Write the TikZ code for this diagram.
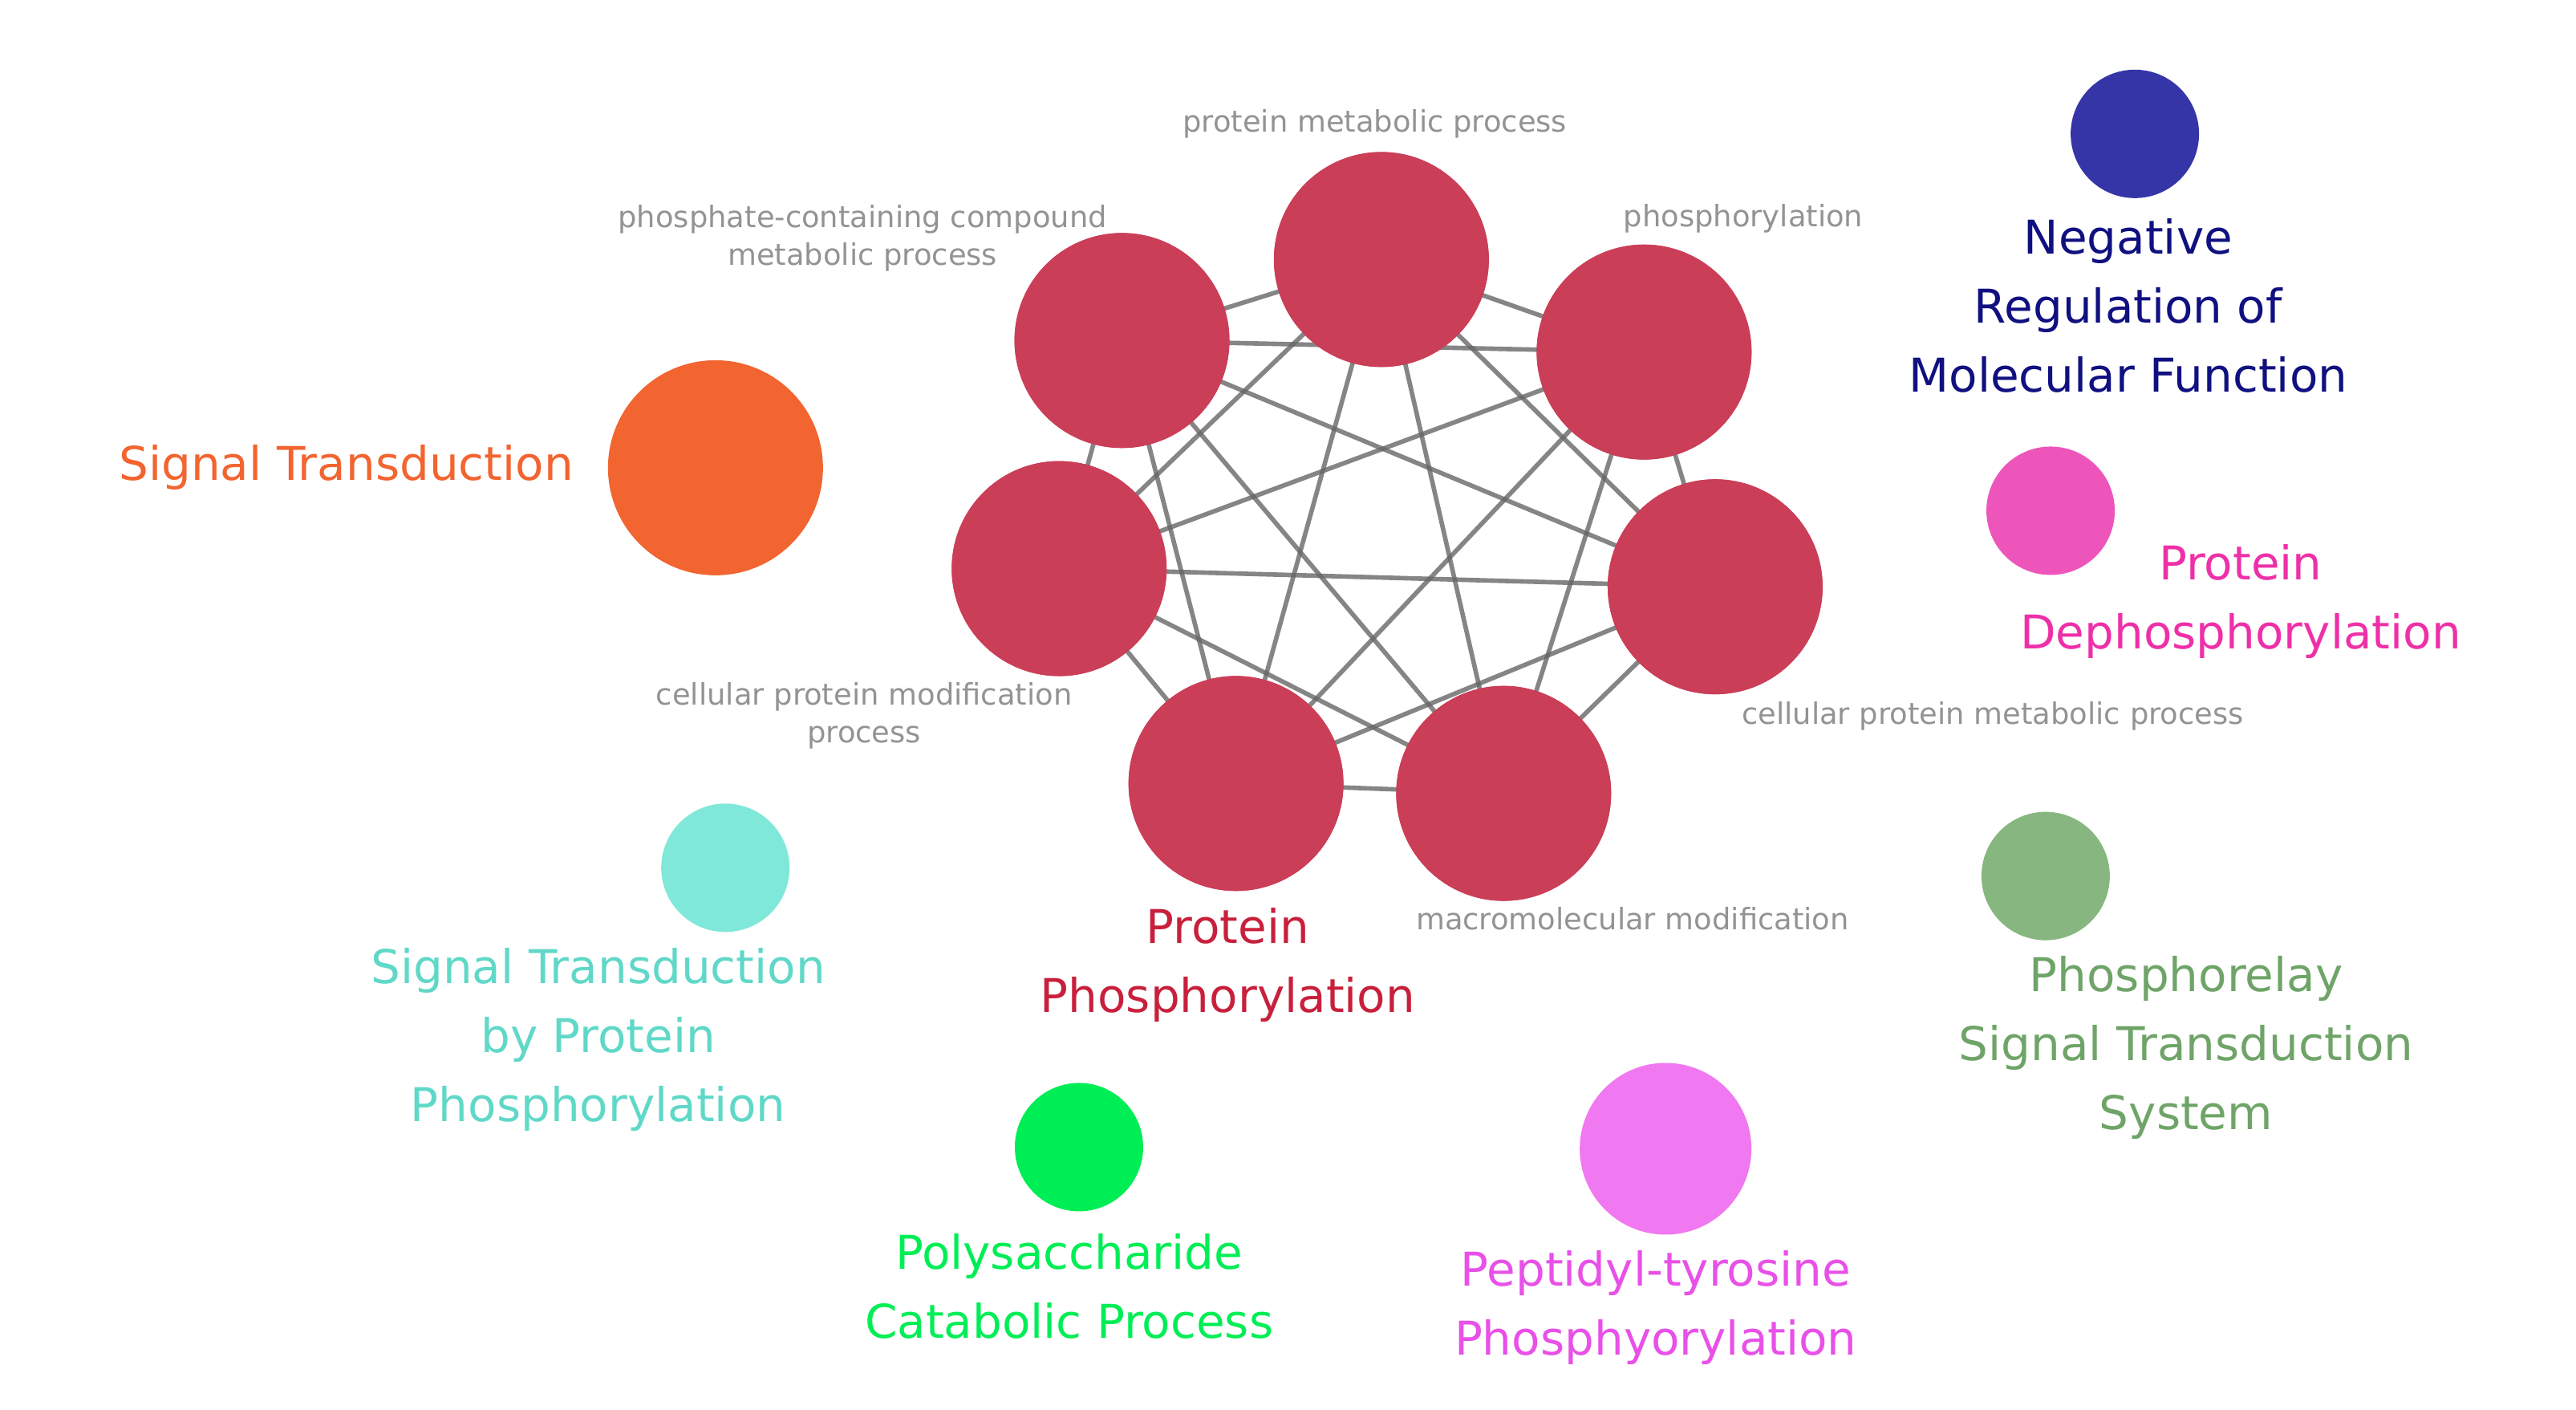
\documentclass[tikz,border=0pt]{standalone}
\usepackage{fontspec}
\setmainfont{DejaVu Sans}
\usetikzlibrary{positioning}
\definecolor{clred}{HTML}{CB3E58}
\definecolor{corange}{HTML}{F26430}
\definecolor{cnavy}{HTML}{3535A8}
\definecolor{ctnavy}{HTML}{101080}
\definecolor{cpink}{HTML}{EE55BB}
\definecolor{ctpink}{HTML}{EE30A8}
\definecolor{cgreen}{HTML}{88B680}
\definecolor{ctgreen}{HTML}{6FA468}
\definecolor{cteal}{HTML}{80E8D8}
\definecolor{ctteal}{HTML}{60D8C8}
\definecolor{clime}{HTML}{00EE55}
\definecolor{cviolet}{HTML}{F078F0}
\definecolor{ctviolet}{HTML}{E850E8}
\definecolor{ctred}{HTML}{C8203C}
\begin{document}
\begin{tikzpicture}[x=0.0206cm, y=-0.0206cm,
    big/.style={circle, fill=clred, minimum size=2.68cm, inner sep=0pt},
    dot/.style={circle, minimum size=1.6cm, inner sep=0pt},
    small/.style={text=gray!85, font=\fontsize{10.5}{13.5}\selectfont, align=center},
    label/.style={font=\fontsize{16.5}{24.5}\selectfont, align=center},
    edge/.style={gray!80!black, line width=1.6pt, opacity=0.8},
]
    \useasboundingbox (0,0) rectangle (1559,853);
    % Cluster
    \node[big] (protmeta) at (836,157) {};
    \node[big] (phos) at (995,213) {};
    \node[big] (cellmeta) at (1038,355) {};
    \node[big] (macro) at (910,480) {};
    \node[big] (protphos) at (748,474) {};
    \node[big] (cellmod) at (641,344) {};
    \node[big] (phoscomp) at (679,206) {};
    
    % Edges
    \begin{scope}[on background layer/.style={}]
    \foreach \a/\b in {protmeta/phos, protmeta/cellmeta, protmeta/macro, protmeta/protphos, protmeta/cellmod, protmeta/phoscomp,
        phos/cellmeta, phos/macro, phos/protphos, phos/cellmod, phos/phoscomp,
        cellmeta/macro, cellmeta/protphos, cellmeta/cellmod, cellmeta/phoscomp,
        macro/protphos, macro/cellmod, macro/phoscomp,
        protphos/cellmod, protphos/phoscomp, cellmod/phoscomp}
        \draw[edge] (\a.center) -- (\b.center);
    \end{scope}
    \foreach \n/\p in {protmeta/{836,157}, phos/{995,213}, cellmeta/{1038,355}, macro/{910,480}, protphos/{748,474}, cellmod/{641,344}, phoscomp/{679,206}}
        \fill[clred] (\p) circle (65);
    
    % Cluster labels
    \node[small] (lprotmeta) at (832,75) {protein metabolic process};
    \node[small] (lphos) at (1055,132) {phosphorylation};
    \node[small] (lphoscomp) at (522,144) {phosphate-containing compound\\metabolic process};
    \node[small] (lcellmod) at (523,433) {cellular protein modification\\process};
    \node[small] (lcellmeta) at (1206,433) {cellular protein metabolic process};
    \node[small] (lmacro) at (988,556) {macromolecular modification};
    \node[label, text=ctred] (lprotphos) at (743,584) {Protein\\Phosphorylation};
    
    % Other terms
    \node[dot, fill=corange, minimum size=2.68cm] (sigtrans) at (433,283) {};
    \node[label, text=corange, left=0.3cm of sigtrans] (lsigtrans) {Signal Transduction};
    \node[dot, fill=cnavy] (negreg) at (1292,81) {};
    \node[label, text=ctnavy] (lnegreg) at (1288,185) {Negative\\Regulation of\\Molecular Function};
    \node[dot, fill=cpink] (dephos) at (1241,309) {};
    \node[label, text=ctpink] (ldephos) at (1356,364) {Protein\\Dephosphorylation};
    \node[dot, fill=cgreen] (relay) at (1238,530) {};
    \node[label, text=ctgreen] (lrelay) at (1323,634) {Phosphorelay\\Signal Transduction\\System};
    \node[dot, fill=cteal] (sigprot) at (439,525) {};
    \node[label, text=ctteal] (lsigprot) at (362,629) {Signal Transduction\\by Protein\\Phosphorylation};
    \node[dot, fill=clime] (poly) at (653,694) {};
    \node[label, text=clime] (lpoly) at (647,778) {Polysaccharide\\Catabolic Process};
    \node[dot, fill=cviolet, minimum size=2.14cm] (peptidyl) at (1008,695) {};
    \node[label, text=ctviolet] (lpeptidyl) at (1002,791) {Peptidyl-tyrosine\\Phosphyorylation};
\end{tikzpicture}
\end{document}
